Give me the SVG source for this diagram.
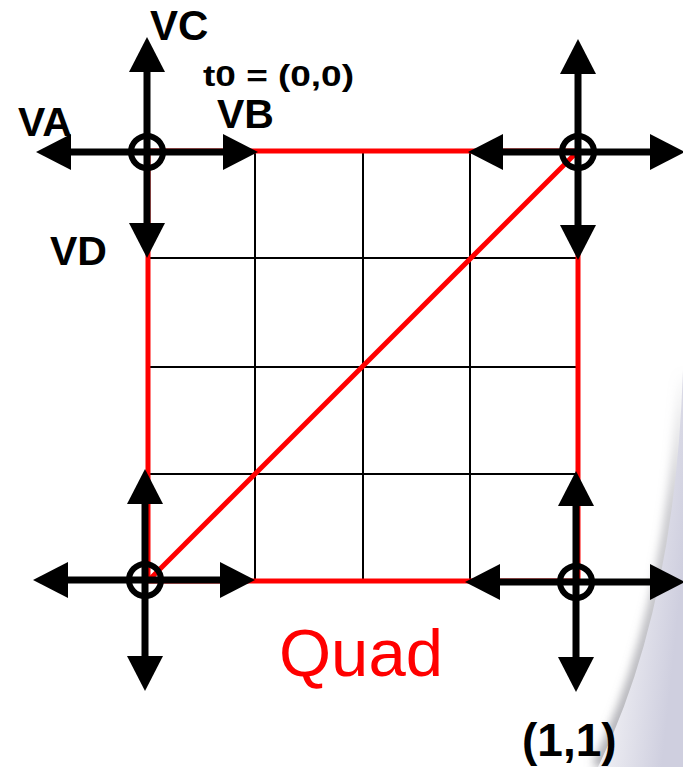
<svg xmlns="http://www.w3.org/2000/svg" width="683" height="767" viewBox="0 0 683 767">
<defs>
<style>
.grid{stroke:#000;stroke-width:2;fill:none}
.quad{stroke:#ff0000;stroke-width:5;fill:none}
.shaft{stroke:#000;stroke-width:7;marker-end:url(#head)}
.ring{stroke:#000;stroke-width:6;fill:none}
.lbl{font-family:"Liberation Sans",Arial,sans-serif;font-weight:bold;fill:#000}
.red{font-family:"Liberation Sans",Arial,sans-serif;fill:#ff0000}
</style>
<marker id="head" viewBox="0 0 35 36" refX="0" refY="18" markerWidth="35" markerHeight="36" markerUnits="userSpaceOnUse" orient="auto">
<path d="M0,0 L35,18 L0,36 Z" fill="#000"/>
</marker>
<linearGradient id="curl" x1="0" y1="0" x2="1" y2="0.5">
<stop offset="0" stop-color="#ffffff"/>
<stop offset="0.3" stop-color="#f6f6f8"/>
<stop offset="1" stop-color="#cfcfdf"/>
</linearGradient>
<linearGradient id="fade" x1="0" y1="0" x2="0" y2="1">
<stop offset="0" stop-color="#a0a0a8" stop-opacity="0"/>
<stop offset="0.35" stop-color="#a0a0a8" stop-opacity="0.6"/>
<stop offset="1" stop-color="#909098" stop-opacity="0.8"/>
</linearGradient>
<filter id="blur" x="-50%" y="-10%" width="200%" height="120%"><feGaussianBlur stdDeviation="5"/></filter>
</defs>
<rect width="683" height="767" fill="#fff"/>
<g id="page-curl">
<path d="M683,370 Q675,610 598,767" stroke="url(#fade)" stroke-width="12" fill="none" filter="url(#blur)"/>
<path d="M683,370 Q675,610 598,767 L683,767 Z" fill="url(#curl)"/>
</g>
<g id="grid">
<path class="grid" d="M255,151V581M363,151V581M470,151V581M148,258H578M148,367H578M148,474H578"/>
<rect class="quad" x="148" y="151" width="430" height="430"/>
<line class="quad" x1="148" y1="581" x2="578" y2="151"/>
</g>
<g id="connectors">
<g id="vertex-tl">
<line class="shaft" x1="147" y1="152" x2="147" y2="72"/>
<line class="shaft" x1="147" y1="152" x2="147" y2="223"/>
<line class="shaft" x1="147" y1="152" x2="71" y2="152"/>
<line class="shaft" x1="147" y1="152" x2="223" y2="152"/>
<circle class="ring" cx="147" cy="152" r="16"/>
</g>
<g id="vertex-tr">
<line class="shaft" x1="578" y1="152" x2="578" y2="74"/>
<line class="shaft" x1="578" y1="152" x2="578" y2="225"/>
<line class="shaft" x1="578" y1="152" x2="503" y2="152"/>
<line class="shaft" x1="578" y1="152" x2="650" y2="152"/>
<circle class="ring" cx="578" cy="152" r="16"/>
</g>
<g id="vertex-bl">
<line class="shaft" x1="145" y1="580" x2="145" y2="504"/>
<line class="shaft" x1="145" y1="580" x2="145" y2="656"/>
<line class="shaft" x1="145" y1="580" x2="68" y2="580"/>
<line class="shaft" x1="145" y1="580" x2="220" y2="580"/>
<circle class="ring" cx="145" cy="580" r="16"/>
</g>
<g id="vertex-br">
<line class="shaft" x1="576" y1="582" x2="576" y2="506"/>
<line class="shaft" x1="576" y1="582" x2="576" y2="657"/>
<line class="shaft" x1="576" y1="582" x2="500" y2="582"/>
<line class="shaft" x1="576" y1="582" x2="650" y2="582"/>
<circle class="ring" cx="576" cy="582" r="16"/>
</g>
</g>
<g id="labels">
<text class="lbl" x="150" y="40" font-size="42">VC</text>
<text class="lbl" x="203" y="86" font-size="30" textLength="151" lengthAdjust="spacingAndGlyphs">t0 = (0,0)</text>
<text class="lbl" x="18" y="136" font-size="41">VA</text>
<text class="lbl" x="217" y="128" font-size="41">VB</text>
<text class="lbl" x="50" y="265" font-size="41">VD</text>
<text class="red" x="279" y="676" font-size="67">Quad</text>
<text class="lbl" x="522" y="756" font-size="46">(1,1)</text>
</g>
</svg>
